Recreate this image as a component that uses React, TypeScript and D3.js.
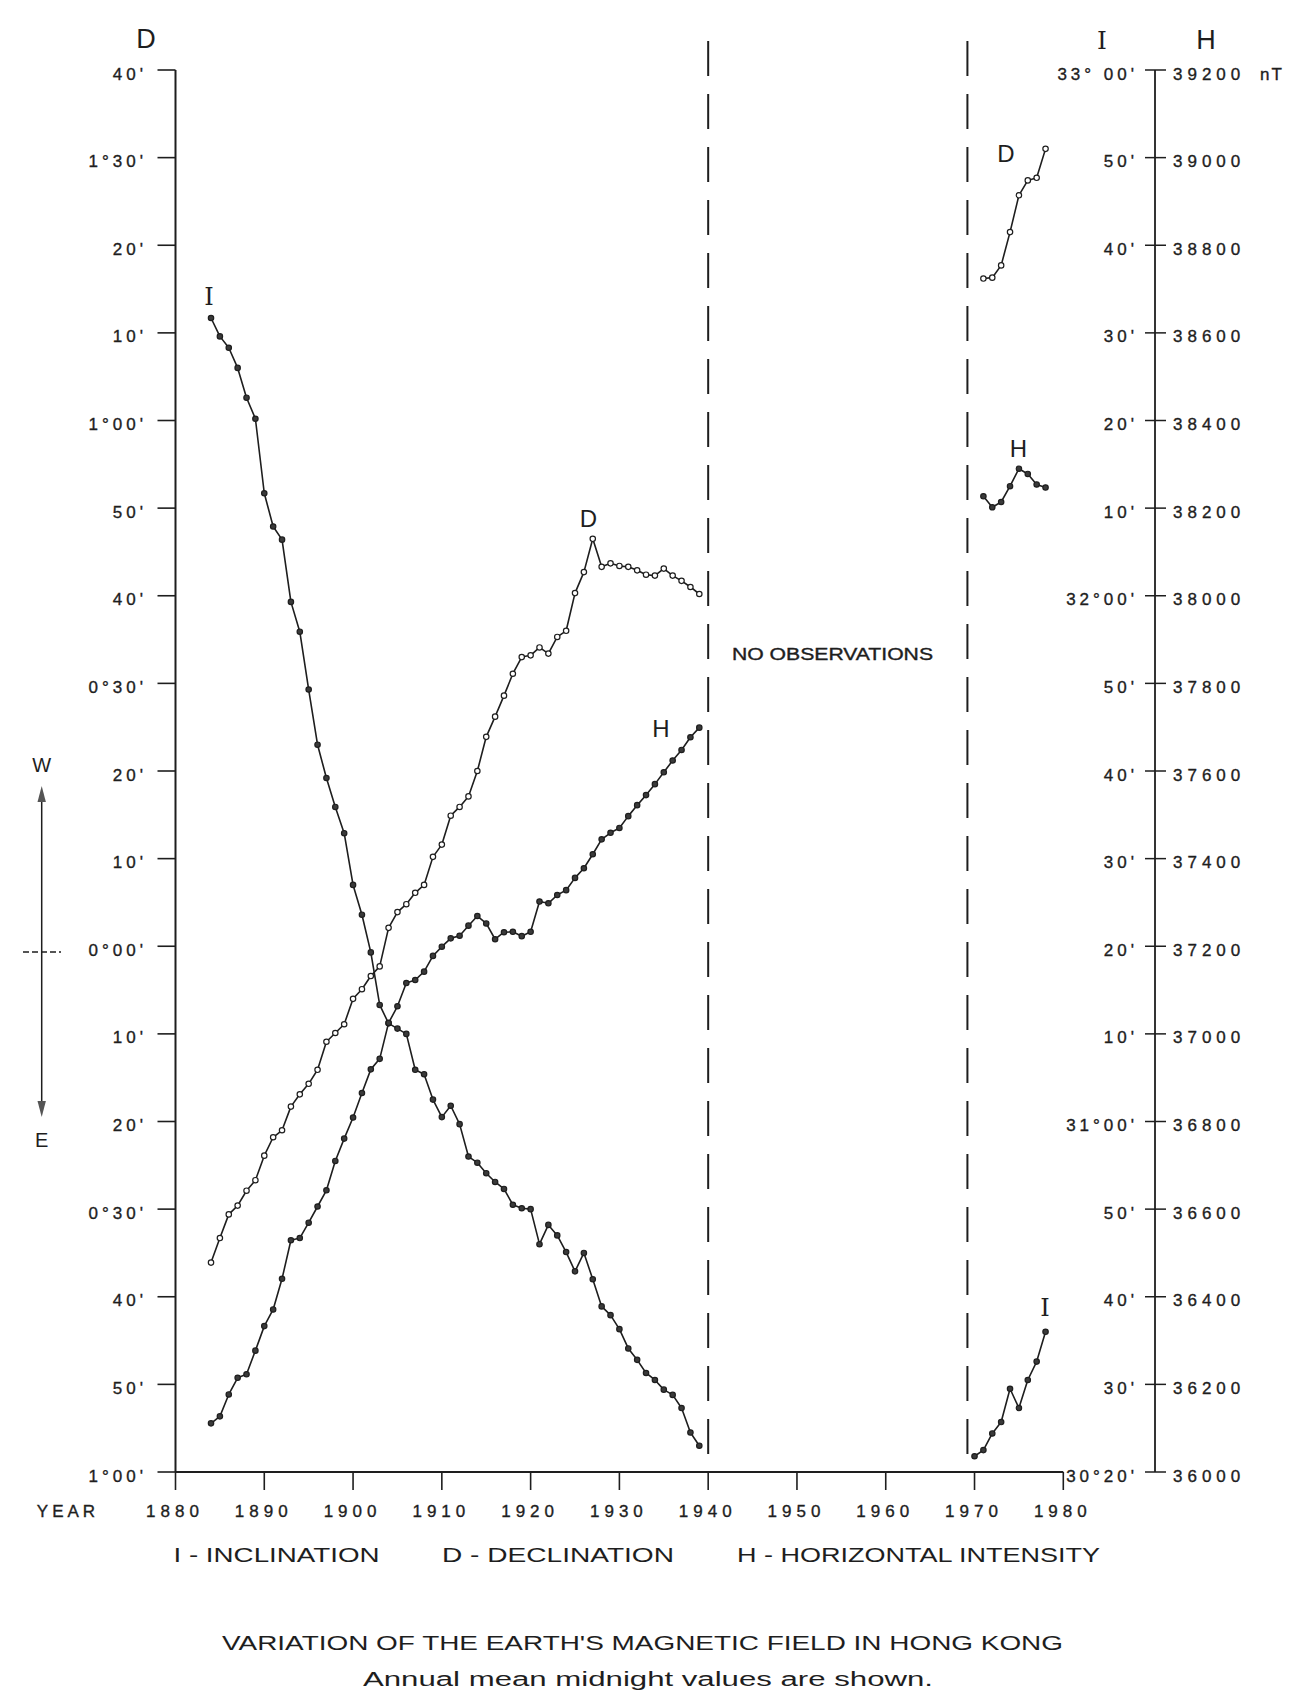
import React from 'react';
import * as d3 from 'd3';

// ---------- DATA ----------
const yearsEarly = [
  1884, 1885, 1886, 1887, 1888, 1889, 1890, 1891, 1892, 1893,
  1894, 1895, 1896, 1897, 1898, 1899, 1900, 1901, 1902, 1903,
  1904, 1905, 1906, 1907, 1908, 1909, 1910, 1911, 1912, 1913,
  1914, 1915, 1916, 1917, 1918, 1919, 1920, 1921, 1922, 1923,
  1924, 1925, 1926, 1927, 1928, 1929, 1930, 1931, 1932, 1933,
  1934, 1935, 1936, 1937, 1938, 1939,
];
// Declination in arc-minutes, West positive
const declinationEarly = [
  -36.1, -33.3, -30.6, -29.6, -27.9, -26.7, -23.9, -21.8, -21.0, -18.3,
  -16.9, -15.7, -14.1, -10.9, -9.9, -8.9, -6.0, -4.9, -3.4, -2.3,
  2.1, 3.9, 4.8, 6.1, 7.0, 10.2, 11.6, 14.9, 15.9, 17.1,
  20.0, 23.9, 26.2, 28.6, 31.1, 33.0, 33.2, 34.1, 33.4, 35.3,
  36.0, 40.3, 42.7, 46.5, 43.3, 43.7, 43.4, 43.3, 42.9, 42.4,
  42.3, 43.1, 42.3, 41.7, 41.0, 40.2,
];
// Inclination in total arc-minutes (30°20' = 1820')
const inclinationEarly = [
  1951.7, 1949.6, 1948.3, 1946.0, 1942.6, 1940.2, 1931.7, 1927.9, 1926.4, 1919.3,
  1915.9, 1909.3, 1903.0, 1899.2, 1895.9, 1892.9, 1887.0, 1883.6, 1879.3, 1873.3,
  1871.2, 1870.6, 1870.0, 1865.9, 1865.4, 1862.5, 1860.5, 1861.8, 1859.7, 1856.0,
  1855.3, 1854.1, 1853.1, 1852.3, 1850.5, 1850.1, 1850.0, 1846.0, 1848.2, 1847.0,
  1845.1, 1842.9, 1845.0, 1842.0, 1838.9, 1837.9, 1836.3, 1834.1, 1832.8, 1831.3,
  1830.5, 1829.4, 1828.8, 1827.3, 1824.5, 1823.0,
];
// Horizontal intensity in nT
const horizontalEarly = [
  36111, 36127, 36177, 36215, 36223, 36277, 36333, 36371, 36441, 36529,
  36534, 36569, 36606, 36643, 36710, 36761, 36809, 36865, 36919, 36943,
  37025, 37063, 37116, 37123, 37142, 37178, 37199, 37218, 37224, 37247,
  37269, 37252, 37216, 37232, 37233, 37223, 37233, 37302, 37298, 37317,
  37328, 37356, 37378, 37410, 37444, 37459, 37470, 37497, 37522, 37545,
  37570, 37597, 37624, 37648, 37677, 37699,
];

const yearsLateI = [1970, 1971, 1972, 1973, 1974, 1975, 1976, 1977, 1978];
const inclinationLate = [1821.8, 1822.5, 1824.4, 1825.7, 1829.5, 1827.3, 1830.5, 1832.6, 1836.0];
const yearsLateDH = [1971, 1972, 1973, 1974, 1975, 1976, 1977, 1978];
const declinationLate = [76.2, 76.3, 77.7, 81.5, 85.7, 87.4, 87.7, 91.0];
const horizontalLate = [38227, 38202, 38214, 38250, 38290, 38278, 38254, 38247];

const yearTicks = [1880, 1890, 1900, 1910, 1920, 1930, 1940, 1950, 1960, 1970, 1980];
const gapYears = [1940, 1969.2];

const dTickValues = [100, 90, 80, 70, 60, 50, 40, 30, 20, 10, 0, -10, -20, -30, -40, -50, -60];
const dTickLabels = ["40'", "1°30'", "20'", "10'", "1°00'", "50'", "40'", "0°30'", "20'", "10'", "0°00'", "10'", "20'", "0°30'", "40'", "50'", "1°00'"];
const iTickValues = [1980, 1970, 1960, 1950, 1940, 1930, 1920, 1910, 1900, 1890, 1880, 1870, 1860, 1850, 1840, 1830, 1820];
const iTickLabels = ["33° 00'", "50'", "40'", "30'", "20'", "10'", "32°00'", "50'", "40'", "30'", "20'", "10'", "31°00'", "50'", "40'", "30'", "30°20'"];
const hTickValues = [39200, 39000, 38800, 38600, 38400, 38200, 38000, 37800, 37600, 37400, 37200, 37000, 36800, 36600, 36400, 36200, 36000];

const legendItems = ["I - INCLINATION", "D - DECLINATION", "H - HORIZONTAL INTENSITY"];
const titleText = "VARIATION OF THE EARTH'S MAGNETIC FIELD IN HONG KONG";
const subtitleText = "Annual mean midnight values are shown.";

// ---------- CHART ----------
const FONT = "'Liberation Sans', Arial, sans-serif";
const SERIF = "'DejaVu Serif', 'Liberation Serif', serif";
const INK = '#1e1e1e';

export default function App() {
  const W = 1311;
  const H = 1700;
  const top = 70;
  const bottom = 1472;
  const x = d3.scaleLinear().domain([1880, 1980]).range([175.5, 1063.3]);
  const yD = d3.scaleLinear().domain([100, -60]).range([top, bottom]);
  const yI = d3.scaleLinear().domain([1980, 1820]).range([top, bottom]);
  const yH = d3.scaleLinear().domain([39200, 36000]).range([top, bottom]);
  const axisLeftX = x(1880);
  const axisRightX = 1155;

  const line = d3.line<[number, number]>();
  const pts = (yrs: number[], vals: number[], sy: d3.ScaleLinear<number, number>) =>
    yrs.map((yr, i) => [x(yr), sy(vals[i])] as [number, number]);

  const series = [
    { p: pts(yearsEarly, declinationEarly, yD), open: true },
    { p: pts(yearsEarly, inclinationEarly, yI), open: false },
    { p: pts(yearsEarly, horizontalEarly, yH), open: false },
    { p: pts(yearsLateDH, declinationLate, yD), open: true },
    { p: pts(yearsLateI, inclinationLate, yI), open: false },
    { p: pts(yearsLateDH, horizontalLate, yH), open: false },
  ];

  const tickFont = 17;
  const tickStyle = { stroke: INK, strokeWidth: 0.35 };

  return (
    <svg
      width={W}
      height={H}
      viewBox={`0 0 ${W} ${H}`}
      style={{ position: 'absolute', left: 0, top: 0, display: 'block', background: '#fff' }}
    >
      <rect x={0} y={0} width={W} height={H} fill="#fff" />

      {/* Axis letters */}
      <text x={146} y={39} fontFamily={FONT} fontSize={27} textAnchor="middle" dominantBaseline="central" fill={INK}>D</text>
      <text x={1102} y={40} fontFamily={SERIF} fontSize={25} textAnchor="middle" dominantBaseline="central" fill={INK}>I</text>
      <text x={1206} y={40} fontFamily={FONT} fontSize={27} textAnchor="middle" dominantBaseline="central" fill={INK}>H</text>

      {/* Left axis */}
      <line x1={axisLeftX} y1={top} x2={axisLeftX} y2={bottom} stroke={INK} strokeWidth={2} />
      {dTickValues.map((v, i) => (
        <g key={'dt' + i}>
          <line x1={axisLeftX - 18} y1={yD(v)} x2={axisLeftX} y2={yD(v)} stroke={INK} strokeWidth={1.6} />
          <text
            x={143 + 4}
            y={yD(v) + 4}
            fontFamily={FONT}
            fontSize={tickFont}
            letterSpacing={4}
            textAnchor="end"
            dominantBaseline="central"
            fill={INK}
            {...tickStyle}
          >
            {dTickLabels[i]}
          </text>
        </g>
      ))}

      {/* Right axis */}
      <line x1={axisRightX} y1={top} x2={axisRightX} y2={bottom} stroke={INK} strokeWidth={1.8} />
      {iTickValues.map((v, i) => (
        <g key={'it' + i}>
          <line x1={axisRightX - 10} y1={yI(v)} x2={axisRightX + 11} y2={yI(v)} stroke={INK} strokeWidth={1.5} />
          <text
            x={1134 + 4}
            y={yI(v) + 4}
            fontFamily={FONT}
            fontSize={tickFont}
            letterSpacing={4}
            textAnchor="end"
            dominantBaseline="central"
            fill={INK}
            {...tickStyle}
          >
            {iTickLabels[i]}
          </text>
        </g>
      ))}
      {hTickValues.map((v, i) => (
        <text
          key={'ht' + i}
          x={1173}
          y={yH(v) + 4}
          fontFamily={FONT}
          fontSize={tickFont}
          letterSpacing={5}
          textAnchor="start"
          dominantBaseline="central"
          fill={INK}
          {...tickStyle}
        >
          {String(v)}
        </text>
      ))}
      <text x={1260} y={yH(39200) + 4} fontFamily={FONT} fontSize={tickFont} letterSpacing={2} dominantBaseline="central" fill={INK} {...tickStyle}>nT</text>

      {/* Bottom axis */}
      <line x1={axisLeftX} y1={bottom} x2={x(1980)} y2={bottom} stroke={INK} strokeWidth={2} />
      {yearTicks.map((yr) => (
        <g key={'yt' + yr}>
          <line x1={x(yr)} y1={bottom} x2={x(yr)} y2={bottom + 18} stroke={INK} strokeWidth={1.6} />
          <text
            x={x(yr) + 2.5 - 3}
            y={1511}
            fontFamily={FONT}
            fontSize={tickFont}
            letterSpacing={5}
            textAnchor="middle"
            dominantBaseline="central"
            fill={INK}
            {...tickStyle}
          >
            {String(yr)}
          </text>
        </g>
      ))}
      <text x={68} y={1511} fontFamily={FONT} fontSize={tickFont} letterSpacing={4} textAnchor="middle" dominantBaseline="central" fill={INK} {...tickStyle}>YEAR</text>

      {/* Gap in observations */}
      {gapYears.map((yr) => (
        <line
          key={'gap' + yr}
          x1={x(yr)}
          y1={41}
          x2={x(yr)}
          y2={bottom}
          stroke={INK}
          strokeWidth={2}
          strokeDasharray="35 18"
        />
      ))}
      <text x={732} y={654} fontFamily={FONT} fontSize={16} textLength={201} lengthAdjust="spacingAndGlyphs" dominantBaseline="central" fill={INK} {...tickStyle}>NO OBSERVATIONS</text>

      {/* W / E arrow */}
      <line x1={41.7} y1={798} x2={41.7} y2={1105} stroke={INK} strokeWidth={1.5} />
      <polygon points="41.7,786 37.5,802 45.9,802" fill="#555" />
      <polygon points="41.7,1117 37.5,1101 45.9,1101" fill="#555" />
      <line x1={23} y1={952} x2={61} y2={952} stroke={INK} strokeWidth={1.3} strokeDasharray="6 3" />
      <text x={41.7} y={765} fontFamily={FONT} fontSize={20} textAnchor="middle" dominantBaseline="central" fill={INK}>W</text>
      <text x={41.7} y={1140} fontFamily={FONT} fontSize={20} textAnchor="middle" dominantBaseline="central" fill={INK}>E</text>

      {/* Series */}
      {series.map((s, si) => (
        <g key={'s' + si}>
          <path d={line(s.p) || ''} fill="none" stroke={INK} strokeWidth={1.6} strokeLinejoin="round" />
          {s.p.map((p, pi) => (
            <circle
              key={pi}
              cx={p[0]}
              cy={p[1]}
              r={2.7}
              fill={s.open ? '#fff' : '#3a3a3a'}
              stroke={INK}
              strokeWidth={1.2}
            />
          ))}
        </g>
      ))}

      {/* Curve labels */}
      <text x={209} y={297} fontFamily={SERIF} fontSize={24} textAnchor="middle" dominantBaseline="central" fill={INK}>I</text>
      <text x={588.5} y={518} fontFamily={FONT} fontSize={24} textAnchor="middle" dominantBaseline="central" fill={INK}>D</text>
      <text x={661} y={728} fontFamily={FONT} fontSize={24} textAnchor="middle" dominantBaseline="central" fill={INK}>H</text>
      <text x={1006} y={153} fontFamily={FONT} fontSize={24} textAnchor="middle" dominantBaseline="central" fill={INK}>D</text>
      <text x={1018.5} y={448} fontFamily={FONT} fontSize={24} textAnchor="middle" dominantBaseline="central" fill={INK}>H</text>
      <text x={1045} y={1308} fontFamily={SERIF} fontSize={24} textAnchor="middle" dominantBaseline="central" fill={INK}>I</text>

      {/* Legend */}
      <text x={173.5} y={1554} fontFamily={FONT} fontSize={21} textLength={206} lengthAdjust="spacingAndGlyphs" dominantBaseline="central" fill={INK}>{legendItems[0]}</text>
      <text x={442} y={1554} fontFamily={FONT} fontSize={21} textLength={232} lengthAdjust="spacingAndGlyphs" dominantBaseline="central" fill={INK}>{legendItems[1]}</text>
      <text x={737} y={1554} fontFamily={FONT} fontSize={21} textLength={363} lengthAdjust="spacingAndGlyphs" dominantBaseline="central" fill={INK}>{legendItems[2]}</text>

      {/* Title */}
      <text x={222} y={1643} fontFamily={FONT} fontSize={20} textLength={841} lengthAdjust="spacingAndGlyphs" dominantBaseline="central" fill={INK}>{titleText}</text>
      <text x={363} y={1679} fontFamily={FONT} fontSize={20} textLength={570} lengthAdjust="spacingAndGlyphs" dominantBaseline="central" fill={INK}>{subtitleText}</text>
    </svg>
  );
}
